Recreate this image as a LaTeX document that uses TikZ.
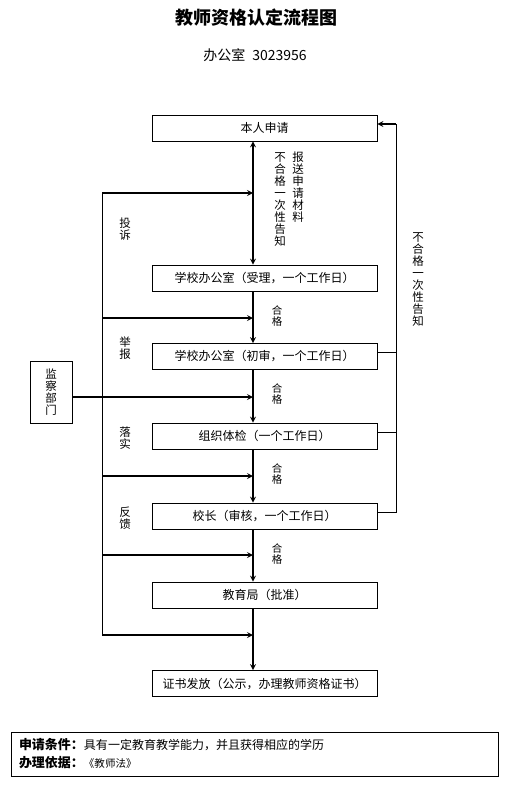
\documentclass[tikz,border=0pt]{standalone}
\usepackage{fontspec}
\setmainfont{Noto Sans CJK SC}
\usetikzlibrary{shapes, arrows}
\tikzset{% 
    stage/.style={%
        draw, align = center, minimum width = 225pt, minimum height = 26pt, inner sep = 0pt, line width=0.8pt, font=\fontsize{12}{14}\selectfont
    }
}
\tikzset{% 
    vtext/.style={%
        align = center, inner sep = 0pt, font=\fontsize{11.5}{12}\selectfont
    }
}
\tikzstyle{flow}=[->,>=stealth,line width=1.6pt]
\tikzstyle{bus}=[line width=0.8pt]
\tikzstyle{ok}=[vtext, font=\fontsize{10.5}{11}\selectfont]

\begin{document}
\begin{tikzpicture}[x=1pt,y=-1pt]
  \useasboundingbox (0,0) rectangle (518,792);

  \node[font=\fontsize{18}{20}\selectfont\bfseries] (title) at (256,18) {教师资格认定流程图};
  \node[font=\fontsize{14}{16}\selectfont] (office) at (255,55) {办公室\hspace{7pt}3023956};
%
  \node[stage] (apply)  at (264.5,128)   {本人申请};
  \node[stage] (accept) at (264.5,278)   {学校办公室（受理，一个工作日）};
  \node[stage] (prelim) at (264.5,356.5) {学校办公室（初审，一个工作日）};
  \node[stage] (exam)   at (264.5,436)   {组织体检（一个工作日）};
  \node[stage] (head)   at (264.5,516)   {校长（审核，一个工作日）};
  \node[stage] (bureau) at (264.5,595)   {教育局（批准）};
  \node[stage] (cert)   at (264.5,683.5) {证书发放（公示，办理教师资格证书）};
%
  \coordinate (spine) at (253,0);
  \draw[flow,<->] (apply.south -| spine) -- (accept.north -| spine);
  \draw[flow] (accept.south -| spine) -- (prelim.north -| spine);
  \draw[flow] (prelim.south -| spine) -- (exam.north -| spine);
  \draw[flow] (exam.south -| spine) -- (head.north -| spine);
  \draw[flow] (head.south -| spine) -- (bureau.north -| spine);
  \draw[flow] (bureau.south -| spine) -- (cert.north -| spine);

  \node[vtext, anchor=north] (nok1) at (280,152) {不\\合\\格\\一\\次\\性\\告\\知};
  \node[vtext, anchor=north] (send) at (298,152) {报\\送\\申\\请\\材\\料};
  \node[ok] (ok1) at (277,316) {合\\格};
  \node[ok] (ok2) at (277,394) {合\\格};
  \node[ok] (ok3) at (277,474) {合\\格};
  \node[ok] (ok4) at (277,554) {合\\格};
%
  % left side
  \foreach \n/\y in {1/193,2/318,3/476,4/555,5/635}
    \coordinate (in\n) at (102,\y);
  \draw[bus] (in1) -- (in5);
  \foreach \n in {1,...,5}
    \draw[flow] (in\n) -- (in\n -| spine);

  \node[draw, line width=0.8pt, minimum width=42pt, minimum height=62pt, vtext] (watch) at (51,392) {监\\察\\部\\门};
  \draw[flow] ([yshift=-5pt]watch.east) -- ([yshift=-5pt]watch.east -| spine);

  \node[vtext] (l1) at (125,229) {投\\诉};
  \node[vtext] (l2) at (125,348) {举\\报};
  \node[vtext] (l3) at (125,438) {落\\实};
  \node[vtext] (l4) at (125,518) {反\\馈};
%
  % right side
  \coordinate (rtop) at (396,124);
  \draw[bus] ([yshift=4pt]head.east) -| (rtop);
  \draw[bus] ([yshift=4pt]prelim.east) -- ([yshift=4pt]prelim.east -| rtop);
  \draw[bus] ([yshift=4pt]exam.east) -- ([yshift=4pt]exam.east -| rtop);
  \draw[flow] (rtop) -- (rtop -| apply.east);
  \node[vtext] (nok2) at (418,280) {不\\合\\格\\一\\次\\性\\告\\知};
%
  \node[draw, line width=0.8pt, text width=471pt, inner xsep=8pt, inner ysep=0pt, minimum height=44pt, align=left, font=\fontsize{12}{18}\selectfont] (cond) at (254.5,754)
    {{\fontsize{13}{18}\selectfont\bfseries 申请条件：}具有一定教育教学能力，并且获得相应的学历\\
     {\fontsize{13}{18}\selectfont\bfseries 办理依据：}{\fontsize{10.5}{18}\selectfont 《教师法》}};
\end{tikzpicture}
\end{document}
